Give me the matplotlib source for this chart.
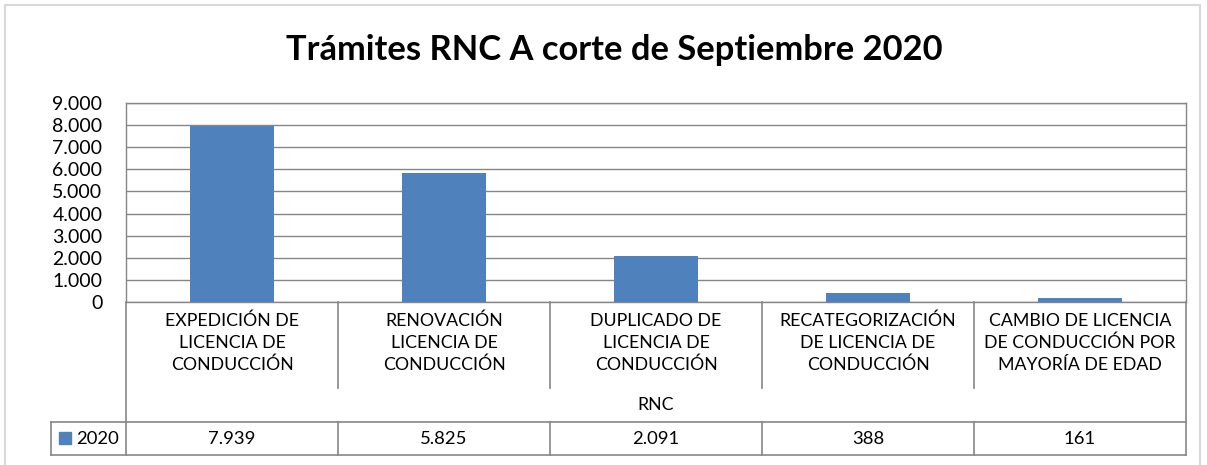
import matplotlib.pyplot as plt
from matplotlib.patches import Rectangle

# data
categories = [
    "EXPEDICIÓN DE\nLICENCIA DE\nCONDUCCIÓN",
    "RENOVACIÓN\nLICENCIA DE\nCONDUCCIÓN",
    "DUPLICADO DE\nLICENCIA DE\nCONDUCCIÓN",
    "RECATEGORIZACIÓN\nDE LICENCIA DE\nCONDUCCIÓN",
    "CAMBIO DE LICENCIA\nDE CONDUCCIÓN POR\nMAYORÍA DE EDAD",
]
values_2020 = [7939, 5825, 2091, 388, 161]
series_name = "2020"
group_label = "RNC"
title = "Trámites RNC A corte de Septiembre 2020"
yticks = list(range(0, 9001, 1000))

W, H = 1207, 465
plt.rcParams['font.family'] = ['Lato', 'DejaVu Sans']
fig = plt.figure(figsize=(W / 100, H / 100), dpi=100)

def fx(x):
    return x / W

def fy(y):
    return 1 - y / H

GRID = '#868686'
BLUE = '#4F81BD'

# plot area in pixels
left, right, top, bottom = 126, 1186, 103, 302
ax = fig.add_axes([fx(left), fy(bottom), fx(right - left), (bottom - top) / H])
n = len(categories)
ax.bar(range(n), values_2020, width=0.4, color=BLUE, zorder=3)
ax.set_xlim(-0.5, n - 0.5)
ax.set_ylim(0, 9000)
ax.set_yticks(yticks)
ax.set_yticklabels([f"{v:,}".replace(",", ".") for v in yticks], fontsize=14)
ax.tick_params(axis='y', length=0, pad=17)
ax.set_xticks([])
for v in yticks:
    ax.axhline(v, color=GRID, lw=1, zorder=1)
for s in ax.spines.values():
    s.set_color(GRID)
    s.set_linewidth(1)

# data table drawn below the axes
def line(x0, y0, x1, y1):
    fig.add_artist(plt.Line2D([fx(x0), fx(x1)], [fy(y0), fy(y1)],
                              color=GRID, lw=1.2, transform=fig.transFigure))

step = (right - left) / n
row_top, row_bot = 422, 455
line(left, bottom, left, row_bot)
line(right, bottom, right, row_bot)
for i in range(1, n):
    xb = left + i * step
    line(xb, bottom, xb, 388)
    line(xb, row_top, xb, row_bot)
line(51, row_top, right, row_top)
line(51, row_bot, right, row_bot)
line(51, row_top, 51, row_bot)

for i, (cat, val) in enumerate(zip(categories, values_2020)):
    cx = left + (i + 0.5) * step
    fig.text(fx(cx), fy(343), cat, ha='center', va='center', fontsize=12.8,
             linespacing=1.45)
    fig.text(fx(cx), fy(439), f"{val:,}".replace(",", "."), ha='center',
             va='center', fontsize=13.3)

fig.text(fx((left + right) / 2), fy(405), group_label, ha='center',
         va='center', fontsize=12.8)

# legend key inside the table row
fig.add_artist(Rectangle((fx(59), fy(444)), fx(12), 12 / H, color=BLUE,
                         transform=fig.transFigure))
fig.text(fx(76), fy(439), series_name, ha='left', va='center', fontsize=13.3)

fig.text(fx(614), fy(50), title, ha='center', va='center', fontsize=24.8,
         fontweight='bold')

# chart frame
fig.add_artist(Rectangle((fx(5), fy(470)), fx(1195), 465 / H, fill=False,
                         edgecolor='#d9d9d9', lw=1.5, transform=fig.transFigure))

fig.savefig('out.png', dpi=100)
